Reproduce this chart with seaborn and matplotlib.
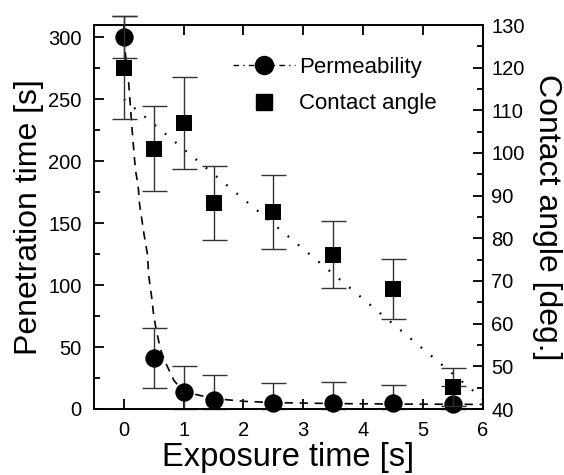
import numpy as np
import pandas as pd
import matplotlib
matplotlib.use("Agg")
import matplotlib.pyplot as plt
from matplotlib.lines import Line2D
from matplotlib.ticker import MultipleLocator
import seaborn as sns

# ---- data ----
exposure = [0, 0.5, 1, 1.5, 2.5, 3.5, 4.5, 5.5]
penetration = [300, 41, 14, 7.3, 5, 5, 4.6, 3.8]
penetration_err = [17, 24, 21, 20, 16, 17, 15, 15]
contact_angle = [120, 101, 107, 88.3, 86.2, 76.2, 68.2, 45.2]
contact_err = [12, 10, 10.7, 8.7, 8.6, 7.9, 7, 4.5]

# fitted curves
perm_fit_x = [0, 0.025, 0.08, 0.109, 0.138, 0.165, 0.193, 0.239, 0.26, 0.294,
              0.333, 0.39, 0.417, 0.462, 0.50, 0.54, 0.613, 0.70, 0.837, 1.0,
              1.48, 2.0, 2.5, 3.5, 4.5, 5.5, 6.0]
perm_fit_y = [300, 287, 263, 244, 225, 209, 193, 180, 166, 155,
              142, 126, 107, 91, 75, 64, 48, 37, 23, 14,
              8.6, 6.2, 5.2, 4.4, 4.0, 3.8, 3.7]
angle_fit_x = [0, 6]
angle_fit_y = [112.6, 42.4]

sns.set_theme(style="ticks")
plt.rcParams['font.family'] = ['Liberation Sans', 'DejaVu Sans']
plt.rcParams.update({
    'axes.linewidth': 1.2,
    'text.color': 'black', 'axes.labelcolor': 'black',
    'xtick.color': 'black', 'ytick.color': 'black',
})

fig = plt.figure(figsize=(5.64, 4.75), dpi=100)
ax = fig.add_axes([94/564, 1-409/475, (482.7-94)/564, (409-25)/475])
ax2 = ax.twinx()

perm_df = pd.DataFrame({"x": perm_fit_x, "y": perm_fit_y})
ang_df = pd.DataFrame({"x": angle_fit_x, "y": angle_fit_y})

sns.lineplot(data=perm_df, x="x", y="y", ax=ax, color="black", lw=1.2,
             linestyle=(0, (5, 4)), sort=False, estimator=None)
sns.lineplot(data=ang_df, x="x", y="y", ax=ax2, color="black", lw=1.6,
             linestyle=(0, (0.8, 5.2)), sort=False, estimator=None)

pen = np.array(penetration)
perr = np.array(penetration_err)
low = np.minimum(perr, pen)
ax.errorbar(exposure, penetration, yerr=[low, perr], fmt='none', ecolor='#333333',
            elinewidth=1.0, capsize=9, capthick=1.0, clip_on=False, zorder=3)
ax2.errorbar(exposure, contact_angle, yerr=contact_err, fmt='none', ecolor='#333333',
             elinewidth=1.0, capsize=9, capthick=1.0, clip_on=False, zorder=3)

sns.scatterplot(x=exposure, y=penetration, ax=ax, marker='o', s=175, color='black',
                linewidth=0, zorder=5, clip_on=False)
sns.scatterplot(x=exposure, y=contact_angle, ax=ax2, marker='s', s=135, color='black',
                linewidth=0, zorder=4, clip_on=False)

ax.set_xlim(-0.5, 6)
ax.set_ylim(0, 310)
ax2.set_ylim(40, 130)

ax.set_xticks([0, 1, 2, 3, 4, 5, 6])
ax.set_yticks([0, 50, 100, 150, 200, 250, 300])
ax.yaxis.set_minor_locator(MultipleLocator(25))
ax2.set_yticks([40, 50, 60, 70, 80, 90, 100, 110, 120, 130])
ax2.yaxis.set_minor_locator(MultipleLocator(5))

ax.tick_params(axis='x', which='major', direction='in', length=7, width=1.3,
               labelsize=14.5, top=True, bottom=True, pad=9, color='black')
ax.tick_params(axis='y', which='major', direction='in', length=7, width=1.3,
               labelsize=14.5, left=True, right=False, pad=9, color='black')
ax.tick_params(axis='y', which='minor', direction='in', length=4, width=1.3,
               left=True, right=False, color='black')
ax2.tick_params(axis='y', which='major', direction='in', length=7, width=1.3,
                labelsize=14.5, pad=6, right=True, left=False, color='black')
ax2.tick_params(axis='y', which='minor', direction='in', length=4, width=1.3,
                right=True, left=False, color='black')

ax.set_xlabel("Exposure time [s]", fontsize=23.5, labelpad=1)
ax.set_ylabel("Penetration time [s]", fontsize=23, labelpad=3)
ax2.set_ylabel("Contact angle [deg.]", fontsize=23, rotation=270, labelpad=27)

for a in (ax, ax2):
    for sp in a.spines.values():
        sp.set_color('black')
        sp.set_linewidth(1.2)

handles = [Line2D([], [], color='black', marker='o', markersize=13, lw=1.0,
                  linestyle=(0, (4, 3, 1, 3))),
           Line2D([], [], color='black', marker='s', markersize=11.5, linestyle='none')]
ax.legend(handles, ["Permeability", "Contact angle"], loc='upper left',
          bbox_to_anchor=(0.335, 0.94), frameon=False, fontsize=16,
          handlelength=2.8, handletextpad=0.15, labelspacing=0.7, borderaxespad=0)

fig.savefig("out.png", dpi=100)
